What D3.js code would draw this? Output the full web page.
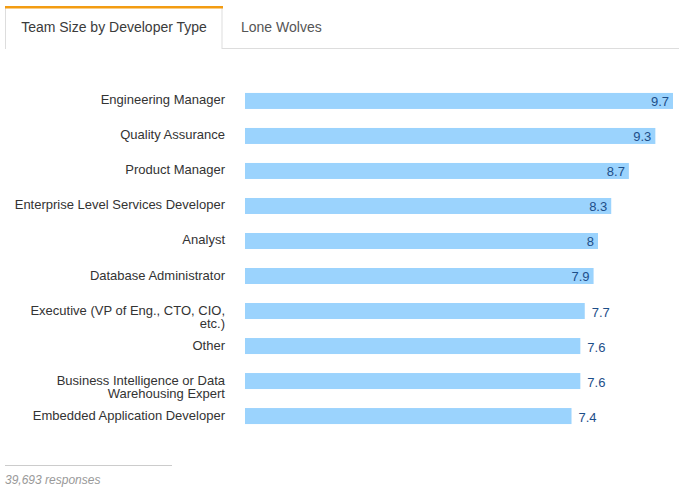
<!DOCTYPE html>
<html><head><meta charset="utf-8">
<script src="https://cdn.jsdelivr.net/npm/d3@7"></script>
<style>
body{margin:0;background:#fff;font-family:"Liberation Sans",Arial,Helvetica,sans-serif;}
</style></head>
<body><svg id="c" width="679" height="494"></svg>
<script>
const categories = ["Engineering Manager","Quality Assurance","Product Manager","Enterprise Level Services Developer","Analyst","Database Administrator","Executive (VP of Eng., CTO, CIO, etc.)","Other","Business Intelligence or Data Warehousing Expert","Embedded Application Developer"];
const labelLines = [["Engineering Manager"],["Quality Assurance"],["Product Manager"],["Enterprise Level Services Developer"],["Analyst"],["Database Administrator"],["Executive (VP of Eng., CTO, CIO,","etc.)"],["Other"],["Business Intelligence or Data","Warehousing Expert"],["Embedded Application Developer"]];
const values = [9.7,9.3,8.7,8.3,8,7.9,7.7,7.6,7.6,7.4];
const valueLabels = ["9.7","9.3","8.7","8.3","8","7.9","7.7","7.6","7.6","7.4"];
const tabs = ["Team Size by Developer Type","Lone Wolves"];
const footer = "39,693 responses";

const svg = d3.select("#c");
// tabs
svg.append("line").attr("x1",222).attr("x2",679).attr("y1",48.5).attr("y2",48.5).attr("stroke","#ddd");
svg.append("rect").attr("x",5.5).attr("y",7).attr("width",216.5).attr("height",48).attr("fill","#fff").attr("stroke","#ddd");
svg.append("rect").attr("x",5).attr("y",6).attr("width",218).attr("height",2.5).attr("fill","#f39c12");
svg.append("text").attr("x",114).attr("y",32).attr("text-anchor","middle").attr("font-size",14).attr("fill","#3b3b3b").text(tabs[0]);
svg.append("text").attr("x",241).attr("y",32).attr("font-size",14).attr("fill","#555").text(tabs[1]);
svg.append("rect").attr("x",0).attr("y",49).attr("width",679).attr("height",10).attr("fill","#fff");

const x = d3.scaleLinear().domain([0,9.7]).range([245,673]);
const y = d3.scaleBand().domain(categories).range([83.5,433.5]).paddingInner(0.543).paddingOuter(0.27);

const g = svg.append("g");
categories.forEach((c,i)=>{
  const yc = y(c)+y.bandwidth()/2;
  g.append("rect").attr("x",x(0)).attr("y",y(c)).attr("width",x(values[i])-x(0)).attr("height",y.bandwidth()).attr("fill","#9bd3fd");
  const t = g.append("text").attr("x",225).attr("y",yc+3.5).attr("text-anchor","end").attr("font-size",13).attr("fill","#333");
  labelLines[i].forEach((l,j)=>t.append("tspan").attr("x",225).attr("dy",j?13:0).text(l));
  const inside = values[i] > 7.8;
  g.append("text").attr("x",inside? x(values[i])-4 : x(values[i])+7).attr("y",yc+(inside?5:6))
   .attr("text-anchor",inside?"end":"start").attr("font-size",13).attr("fill","#1d4e89").text(valueLabels[i]);
});

svg.append("line").attr("x1",5).attr("x2",172).attr("y1",465.5).attr("y2",465.5).attr("stroke","#ccc");
svg.append("text").attr("x",5).attr("y",484).attr("font-size",12).attr("font-style","italic").attr("fill","#999").text(footer);
</script></body></html>
